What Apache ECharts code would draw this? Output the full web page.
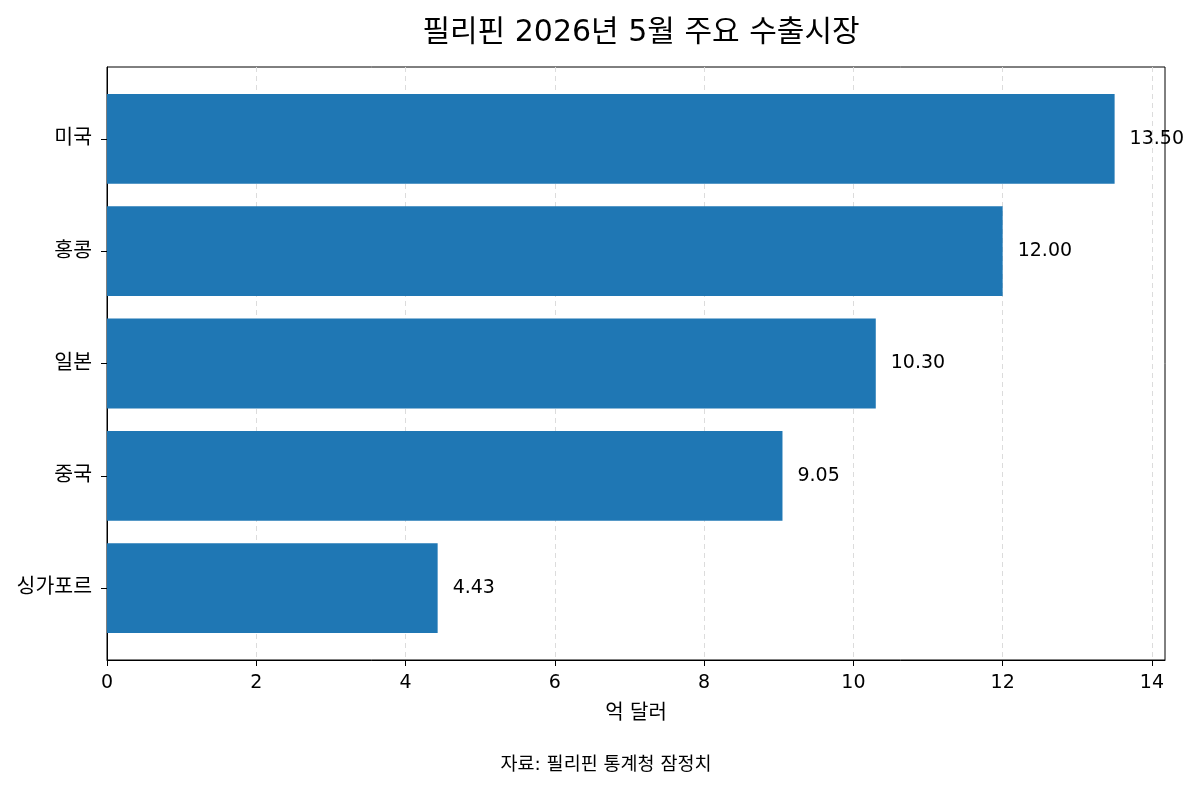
<!DOCTYPE html>
<html>
<head>
<meta charset="utf-8">
<script src="https://cdn.jsdelivr.net/npm/echarts@6/dist/echarts.min.js"></script>
<style>
  html, body { margin: 0; padding: 0; background: #fff; }
  #chart { width: 1200px; height: 788px; }
</style>
</head>
<body>
<div id="chart"></div>
<script>
const markets = ["미국", "홍콩", "일본", "중국", "싱가포르"];
const exportValues = [13.5, 12.0, 10.3, 9.05, 4.43];
const xTicks = [0, 2, 4, 6, 8, 10, 12, 14];
const xMax = 14.175;

const font = "'DejaVu Sans', 'Noto Sans CJK KR', sans-serif";

// frame of the axes: top 67, bottom 660 (593px for 5.28 units)
// bar band area inside it: 0.14 unit extra padding at each end
const frameTop = 67, frameBottom = 788 - 660;
const unit = 593 / 5.28;
const pad = 0.14 * unit;

const chart = echarts.init(document.getElementById("chart"));
chart.setOption({
  animation: false,
  textStyle: { fontFamily: font },
  title: [
    {
      text: "필리핀 2026년 5월 주요 수출시장",
      left: 636, top: 13, textAlign: "center",
      textStyle: { fontSize: 30, fontWeight: "normal", color: "#000", fontFamily: font }
    },
    {
      text: "자료: 필리핀 통계청 잠정치",
      left: 601, top: 751, textAlign: "center",
      textStyle: { fontSize: 18.5, fontWeight: "normal", color: "#000", fontFamily: font }
    }
  ],
  grid: [
    { left: 107, right: 35, top: frameTop, bottom: frameBottom,
      show: true, borderColor: "#000", borderWidth: 1, backgroundColor: "transparent" },
    { left: 107, right: 35, top: frameTop + pad, bottom: frameBottom + pad }
  ],
  xAxis: [
    {
      gridIndex: 0, type: "value", min: 0, max: xMax,
      name: "억 달러", nameLocation: "middle", nameGap: 44,
      nameTextStyle: { fontSize: 20, color: "#000", fontFamily: font },
      axisLine: { show: true, lineStyle: { color: "#000", width: 1 } },
      axisTick: { show: true, length: 6, customValues: xTicks, lineStyle: { color: "#000" } },
      axisLabel: { customValues: xTicks, fontSize: 19, color: "#000", margin: 14, fontFamily: font },
      splitLine: { show: true, lineStyle: { color: "#dcdcdc", type: [5, 4], width: 1 } }
    },
    {
      gridIndex: 1, type: "value", min: 0, max: xMax,
      show: false, splitLine: { show: false }
    }
  ],
  yAxis: [
    {
      gridIndex: 0, type: "value",
      axisLine: { show: true, lineStyle: { color: "#000", width: 1 } },
      axisTick: { show: false }, axisLabel: { show: false },
      splitLine: { show: false }
    },
    {
      gridIndex: 1, type: "category", data: markets, inverse: true,
      axisLine: { show: false },
      axisTick: { show: true, alignWithLabel: true, length: 6, lineStyle: { color: "#000" } },
      axisLabel: { fontSize: 20.5, color: "#000", margin: 15, fontFamily: font }
    }
  ],
  series: [
    {
      type: "bar",
      xAxisIndex: 1, yAxisIndex: 1,
      data: exportValues,
      barWidth: "80%",
      itemStyle: { color: "#1f77b4" },
      label: {
        show: true, position: "right", distance: 15,
        fontSize: 19, color: "#000", fontFamily: font,
        formatter: p => p.value.toFixed(2)
      }
    }
  ]
});
</script>
</body>
</html>
